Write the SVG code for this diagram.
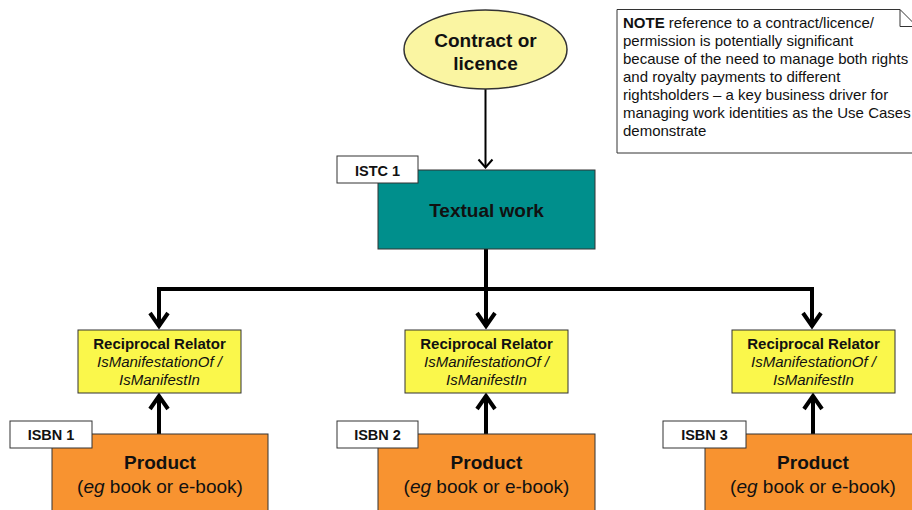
<svg xmlns="http://www.w3.org/2000/svg" width="912" height="510" viewBox="0 0 912 510">
<style>
text{font-family:"Liberation Sans",Arial,sans-serif;fill:#111}
.b{font-weight:bold}
.i{font-style:italic}
.box{stroke:#333;stroke-width:1}
.lbl{fill:#fff;stroke:#333;stroke-width:1}
.rel{fill:#FAF74B;stroke:#333;stroke-width:1}
.prod{fill:#F89330;stroke:#333;stroke-width:1}
.thick{fill:none;stroke:#000;stroke-width:4;stroke-linejoin:miter}
.thin{fill:none;stroke:#000;stroke-width:2}
</style>
<rect width="912" height="510" fill="#fff"/>
<g id="connectors">
<path class="thin" d="M485.5 89 V167"/>
<path class="thin" d="M478.5 159.5 L485.5 167.5 L492.5 159.5"/>
<path class="thick" d="M486 249 V327"/>
<path class="thick" d="M159 327 V289 H812 V327"/>
<path class="thick" d="M150 313 L159 326 L168 313"/>
<path class="thick" d="M477 313 L486 326 L495 313"/>
<path class="thick" d="M803 313 L812 326 L821 313"/>
<path class="thick" d="M159 435 V396"/>
<path class="thick" d="M150 409 L159 396 L168 409"/>
<path class="thick" d="M486 435 V396"/>
<path class="thick" d="M477 409 L486 396 L495 409"/>
<path class="thick" d="M813 435 V396"/>
<path class="thick" d="M804 409 L813 396 L822 409"/>
</g>
<g id="contract">
<ellipse cx="485.5" cy="49.5" rx="81.5" ry="39.5" fill="#FAF5A2" stroke="#333" stroke-width="1.5"/>
<text class="b" x="485.5" y="47" font-size="19" text-anchor="middle">Contract or</text>
<text class="b" x="485.5" y="70" font-size="19" text-anchor="middle">licence</text>
</g>
<g id="note">
<path d="M617 9.5 H900 L917 26.5 V153 H617 Z" fill="#fff" stroke="#333" stroke-width="1"/>
<path d="M900 9.5 V26.5 H917" fill="none" stroke="#333" stroke-width="1"/>
<text x="623" font-size="15"><tspan x="623" y="28"><tspan class="b">NOTE</tspan> reference to a contract/licence/</tspan><tspan x="623" y="46">permission is potentially significant</tspan><tspan x="623" y="64">because of the need to manage both rights</tspan><tspan x="623" y="82">and royalty payments to different</tspan><tspan x="623" y="100">rightsholders – a key business driver for</tspan><tspan x="623" y="118">managing work identities as the Use Cases</tspan><tspan x="623" y="136">demonstrate</tspan></text>
</g>
<g id="textual-work">
<rect class="box" x="378" y="170" width="217" height="79" fill="#008F8C"/>
<text class="b" x="486.5" y="217" font-size="19" text-anchor="middle">Textual work</text>
</g>
<g id="istc1">
<rect class="lbl" x="337" y="156" width="81" height="27"/>
<text class="b" x="377.5" y="176" font-size="14.5" text-anchor="middle">ISTC 1</text>
</g>
<g id="relator1">
<rect class="rel" x="78" y="330" width="163" height="63"/>
<text class="b" x="159.5" y="349" font-size="15" text-anchor="middle">Reciprocal Relator</text>
<text class="i" x="159.5" y="367" font-size="15" text-anchor="middle">IsManifestationOf /</text>
<text class="i" x="159.5" y="385" font-size="15" text-anchor="middle">IsManifestIn</text>
</g>
<g id="relator2">
<rect class="rel" x="405" y="330" width="163" height="63"/>
<text class="b" x="486.5" y="349" font-size="15" text-anchor="middle">Reciprocal Relator</text>
<text class="i" x="486.5" y="367" font-size="15" text-anchor="middle">IsManifestationOf /</text>
<text class="i" x="486.5" y="385" font-size="15" text-anchor="middle">IsManifestIn</text>
</g>
<g id="relator3">
<rect class="rel" x="732" y="330" width="163" height="63"/>
<text class="b" x="813.5" y="349" font-size="15" text-anchor="middle">Reciprocal Relator</text>
<text class="i" x="813.5" y="367" font-size="15" text-anchor="middle">IsManifestationOf /</text>
<text class="i" x="813.5" y="385" font-size="15" text-anchor="middle">IsManifestIn</text>
</g>
<g id="product1">
<rect class="prod" x="52" y="434" width="216" height="90"/>
<text class="b" x="160" y="469" font-size="19" text-anchor="middle">Product</text>
<text x="160" y="493" font-size="19" text-anchor="middle">(<tspan class="i">eg</tspan> book or e-book)</text>
</g>
<g id="isbn1">
<rect class="lbl" x="10" y="421" width="82" height="27"/>
<text class="b" x="51" y="440" font-size="14.5" text-anchor="middle">ISBN 1</text>
</g>
<g id="product2">
<rect class="prod" x="378" y="434" width="217" height="90"/>
<text class="b" x="486.5" y="469" font-size="19" text-anchor="middle">Product</text>
<text x="486.5" y="493" font-size="19" text-anchor="middle">(<tspan class="i">eg</tspan> book or e-book)</text>
</g>
<g id="isbn2">
<rect class="lbl" x="337" y="421" width="81" height="27"/>
<text class="b" x="377.5" y="440" font-size="14.5" text-anchor="middle">ISBN 2</text>
</g>
<g id="product3">
<rect class="prod" x="705" y="434" width="217" height="90"/>
<text class="b" x="813" y="469" font-size="19" text-anchor="middle">Product</text>
<text x="813" y="493" font-size="19" text-anchor="middle">(<tspan class="i">eg</tspan> book or e-book)</text>
</g>
<g id="isbn3">
<rect class="lbl" x="663" y="421" width="83" height="27"/>
<text class="b" x="704.5" y="440" font-size="14.5" text-anchor="middle">ISBN 3</text>
</g>
</svg>
